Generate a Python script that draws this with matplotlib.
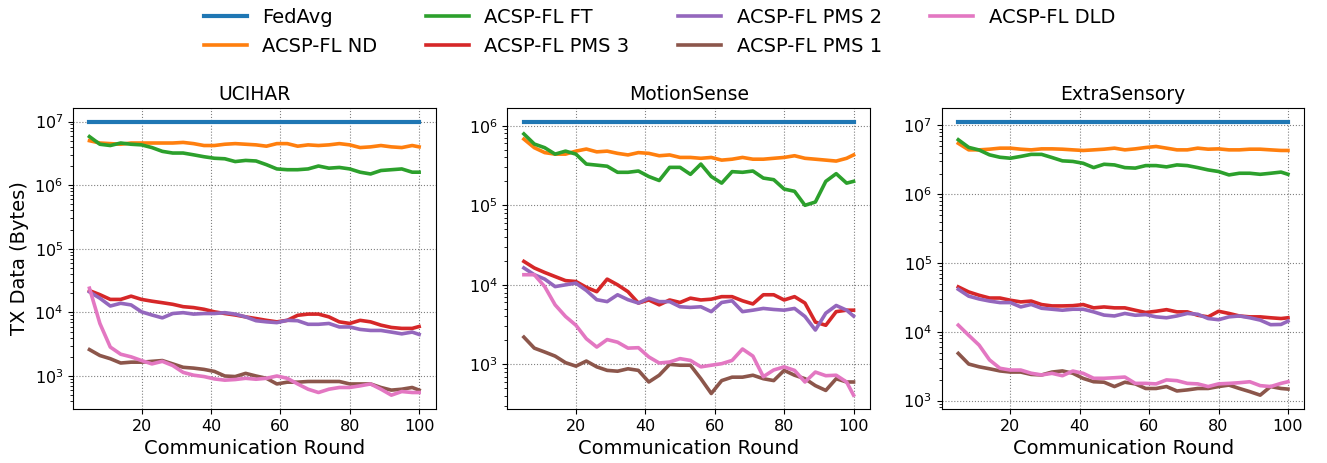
import matplotlib
matplotlib.use("Agg")
import matplotlib.pyplot as plt

# communication rounds (sampled)
rounds = [5, 8, 11, 14, 17, 20, 23, 26, 29, 32, 35, 38, 41, 44, 47, 50, 53,
          56, 59, 62, 65, 68, 71, 74, 77, 80, 83, 86, 89, 92, 95, 98, 100]
rounds_fedavg = [5, 100]

labels = ["FedAvg", "ACSP-FL ND", "ACSP-FL FT", "ACSP-FL PMS 3",
          "ACSP-FL PMS 2", "ACSP-FL PMS 1", "ACSP-FL DLD"]
titles = ["UCIHAR", "MotionSense", "ExtraSensory"]

# UCIHAR
ucihar_fedavg = [1.0e7, 1.0e7]
ucihar_nd = [5.0e6, 4.6e6, 4.5e6, 4.4e6, 4.6e6, 4.6e6, 4.6e6, 4.6e6, 4.6e6, 4.7e6, 4.5e6,
             4.2e6, 4.2e6, 4.4e6, 4.5e6, 4.4e6, 4.3e6, 4.1e6, 4.5e6, 4.5e6, 4.1e6, 4.3e6,
             4.2e6, 4.3e6, 4.5e6, 4.3e6, 3.9e6, 4.0e6, 4.2e6, 4.0e6, 3.9e6, 4.2e6, 4.0e6]
ucihar_ft = [5.8e6, 4.4e6, 4.2e6, 4.6e6, 4.4e6, 4.3e6, 3.9e6, 3.4e6, 3.2e6, 3.2e6, 3.0e6,
             2.8e6, 2.65e6, 2.6e6, 2.35e6, 2.45e6, 2.4e6, 2.1e6, 1.8e6, 1.75e6, 1.75e6, 1.8e6,
             2.0e6, 1.85e6, 1.9e6, 1.8e6, 1.6e6, 1.5e6, 1.7e6, 1.75e6, 1.8e6, 1.6e6, 1.6e6]
ucihar_pms3 = [2.2e4, 1.9e4, 1.6e4, 1.6e4, 1.8e4, 1.6e4, 1.5e4, 1.42e4, 1.34e4, 1.23e4, 1.19e4,
               1.12e4, 1.02e4, 9.6e3, 9.1e3, 8.5e3, 8.0e3, 7.5e3, 7.1e3, 7.5e3, 9.0e3, 9.4e3,
               9.4e3, 8.5e3, 7.1e3, 6.7e3, 7.5e3, 7.1e3, 6.3e3, 5.8e3, 5.6e3, 5.6e3, 6.0e3]
ucihar_pms2 = [2.1e4, 1.67e4, 1.26e4, 1.39e4, 1.31e4, 1.02e4, 9.1e3, 8.2e3, 9.6e3, 9.9e3, 9.4e3,
               9.6e3, 9.6e3, 9.9e3, 9.4e3, 8.5e3, 7.4e3, 7.1e3, 6.9e3, 7.5e3, 7.4e3, 6.5e3,
               6.5e3, 6.7e3, 5.9e3, 5.9e3, 5.4e3, 5.2e3, 5.2e3, 4.9e3, 4.6e3, 4.9e3, 4.5e3]
ucihar_pms1 = [2.6e3, 2.1e3, 1.87e3, 1.6e3, 1.65e3, 1.65e3, 1.7e3, 1.75e3, 1.55e3, 1.37e3, 1.33e3,
               1.27e3, 1.18e3, 1.0e3, 9.8e2, 1.1e3, 1.0e3, 9.2e2, 7.5e2, 8.0e2, 8.0e2, 8.2e2,
               8.2e2, 8.2e2, 8.2e2, 7.5e2, 7.5e2, 7.5e2, 6.6e2, 6.0e2, 6.2e2, 6.6e2, 6.0e2]
ucihar_dld = [2.4e4, 6.7e3, 2.85e3, 2.2e3, 2.0e3, 1.75e3, 1.55e3, 1.7e3, 1.46e3, 1.14e3, 1.03e3,
              9.8e2, 9.0e2, 8.6e2, 8.8e2, 9.2e2, 8.9e2, 9.2e2, 1.0e3, 9.2e2, 7.5e2, 6.2e2,
              5.5e2, 6.2e2, 6.6e2, 6.6e2, 7.0e2, 7.5e2, 6.2e2, 5.0e2, 5.7e2, 5.5e2, 5.5e2]

# MotionSense
motion_fedavg = [1.13e6, 1.13e6]
motion_nd = [6.8e5, 5.3e5, 4.6e5, 4.4e5, 4.4e5, 4.8e5, 5.1e5, 4.7e5, 4.8e5, 4.5e5, 4.3e5,
             4.6e5, 4.5e5, 4.2e5, 4.3e5, 4.0e5, 4.0e5, 3.9e5, 4.0e5, 3.7e5, 3.8e5, 4.0e5,
             3.8e5, 3.8e5, 3.9e5, 4.0e5, 4.2e5, 3.9e5, 3.8e5, 3.7e5, 3.6e5, 3.9e5, 4.3e5]
motion_ft = [7.9e5, 5.9e5, 5.3e5, 4.4e5, 4.8e5, 4.4e5, 3.3e5, 3.2e5, 3.1e5, 2.6e5, 2.6e5,
             2.7e5, 2.3e5, 2.05e5, 3.0e5, 3.0e5, 2.45e5, 3.3e5, 2.3e5, 1.9e5, 2.65e5, 2.6e5,
             2.7e5, 2.2e5, 2.1e5, 1.6e5, 1.5e5, 1.0e5, 1.1e5, 2.0e5, 2.5e5, 1.9e5, 2.0e5]
motion_pms3 = [1.97e4, 1.63e4, 1.43e4, 1.27e4, 1.13e4, 1.1e4, 9.3e3, 8.2e3, 1.18e4, 1.0e4, 8.2e3,
               5.9e3, 6.45e3, 5.6e3, 6.45e3, 6.0e3, 6.8e3, 6.45e3, 6.6e3, 7.1e3, 7.1e3, 6.3e3,
               5.75e3, 7.5e3, 7.5e3, 6.45e3, 7.1e3, 5.9e3, 3.4e3, 3.1e3, 4.6e3, 4.8e3, 4.8e3]
motion_pms2 = [1.63e4, 1.34e4, 1.18e4, 9.5e3, 1.0e4, 1.05e4, 8.5e3, 6.5e3, 6.15e3, 7.5e3, 6.5e3,
               5.9e3, 6.8e3, 6.15e3, 6.15e3, 5.3e3, 5.2e3, 5.3e3, 4.6e3, 6.0e3, 6.3e3, 4.6e3,
               4.8e3, 5.05e3, 4.9e3, 4.8e3, 5.05e3, 4.0e3, 2.7e3, 4.4e3, 5.5e3, 4.8e3, 4.05e3]
motion_pms1 = [2.2e3, 1.6e3, 1.43e3, 1.27e3, 1.05e3, 9.5e2, 1.1e3, 9.3e2, 8.4e2, 8.2e2, 8.8e2,
               8.4e2, 6.0e2, 7.3e2, 1.0e3, 9.75e2, 9.75e2, 6.6e2, 4.3e2, 6.25e2, 6.9e2, 6.9e2,
               7.3e2, 6.6e2, 6.25e2, 8.4e2, 7.3e2, 6.6e2, 5.4e2, 4.7e2, 6.6e2, 6.0e2, 6.0e2]
motion_dld = [1.34e4, 1.34e4, 9.5e3, 5.6e3, 4.0e3, 3.1e3, 2.1e3, 1.65e3, 2.05e3, 1.9e3, 1.6e3,
              1.62e3, 1.24e3, 1.04e3, 1.07e3, 1.18e3, 1.12e3, 9.3e2, 9.75e2, 1.02e3, 1.12e3, 1.56e3,
              1.27e3, 7.0e2, 8.5e2, 9.3e2, 8.4e2, 6.0e2, 8.0e2, 7.2e2, 7.3e2, 6.0e2, 4.1e2]

# ExtraSensory
extra_fedavg = [1.14e7, 1.14e7]
extra_nd = [5.5e6, 4.42e6, 4.42e6, 4.52e6, 4.68e6, 4.68e6, 4.52e6, 4.42e6, 4.57e6, 4.57e6, 4.52e6,
            4.42e6, 4.33e6, 4.42e6, 4.52e6, 4.68e6, 4.42e6, 4.57e6, 4.78e6, 4.95e6, 4.68e6, 4.42e6,
            4.42e6, 4.68e6, 4.52e6, 4.57e6, 4.42e6, 4.42e6, 4.52e6, 4.52e6, 4.42e6, 4.33e6, 4.33e6]
extra_ft = [6.2e6, 4.8e6, 4.4e6, 3.74e6, 3.45e6, 3.34e6, 3.55e6, 3.8e6, 3.8e6, 3.42e6, 3.06e6,
            3.0e6, 2.82e6, 2.44e6, 2.73e6, 2.67e6, 2.44e6, 2.4e6, 2.61e6, 2.61e6, 2.5e6, 2.67e6,
            2.61e6, 2.44e6, 2.26e6, 2.14e6, 1.91e6, 2.02e6, 2.02e6, 1.95e6, 2.02e6, 2.1e6, 1.95e6]
extra_pms3 = [4.5e4, 3.8e4, 3.4e4, 3.1e4, 3.1e4, 2.88e4, 2.72e4, 2.8e4, 2.49e4, 2.38e4, 2.38e4,
              2.4e4, 2.49e4, 2.23e4, 2.3e4, 2.23e4, 2.23e4, 2.06e4, 1.91e4, 1.99e4, 2.1e4, 1.95e4,
              1.95e4, 1.74e4, 1.65e4, 1.99e4, 1.85e4, 1.7e4, 1.65e4, 1.65e4, 1.6e4, 1.56e4, 1.6e4]
extra_pms2 = [4.15e4, 3.3e4, 3.0e4, 2.8e4, 2.66e4, 2.66e4, 2.3e4, 2.5e4, 2.2e4, 2.13e4, 2.06e4,
              2.13e4, 2.13e4, 1.95e4, 1.75e4, 1.7e4, 1.85e4, 1.74e4, 1.78e4, 1.65e4, 1.6e4, 1.7e4,
              1.85e4, 1.8e4, 1.56e4, 1.5e4, 1.65e4, 1.7e4, 1.6e4, 1.48e4, 1.27e4, 1.28e4, 1.43e4]
extra_pms1 = [4.85e3, 3.4e3, 3.1e3, 2.9e3, 2.7e3, 2.6e3, 2.6e3, 2.4e3, 2.36e3, 2.6e3, 2.7e3,
              2.5e3, 2.1e3, 1.88e3, 1.85e3, 1.6e3, 1.85e3, 1.75e3, 1.5e3, 1.5e3, 1.6e3, 1.38e3,
              1.43e3, 1.5e3, 1.5e3, 1.6e3, 1.68e3, 1.5e3, 1.35e3, 1.2e3, 1.6e3, 1.5e3, 1.47e3]
extra_dld = [1.25e4, 8.9e3, 6.4e3, 3.9e3, 2.95e3, 2.78e3, 2.78e3, 2.5e3, 2.36e3, 2.49e3, 2.3e3,
             2.69e3, 2.49e3, 2.11e3, 2.11e3, 2.15e3, 2.2e3, 1.78e3, 1.78e3, 1.75e3, 2.0e3, 1.95e3,
             1.78e3, 1.75e3, 1.6e3, 1.75e3, 1.78e3, 1.82e3, 1.88e3, 1.65e3, 1.6e3, 1.78e3, 1.88e3]

panels = [
    (ucihar_fedavg, [ucihar_nd, ucihar_ft, ucihar_pms3, ucihar_pms2, ucihar_pms1, ucihar_dld]),
    (motion_fedavg, [motion_nd, motion_ft, motion_pms3, motion_pms2, motion_pms1, motion_dld]),
    (extra_fedavg, [extra_nd, extra_ft, extra_pms3, extra_pms2, extra_pms1, extra_dld]),
]

fig, axes = plt.subplots(1, 3, figsize=(13.27, 4.63), dpi=100)
plt.subplots_adjust(left=0.055, right=0.983, bottom=0.117, top=0.767, wspace=0.198)

lw = 2.6
for i, ax in enumerate(axes):
    fedavg, series = panels[i]
    ax.plot(rounds_fedavg, fedavg, color="C0", lw=lw + 0.4, label=labels[0])
    for j, s in enumerate(series):
        ax.plot(rounds, s, color="C%d" % (j + 1), lw=lw, label=labels[j + 1])
    ax.set_yscale("log")
    ax.set_title(titles[i], fontsize=13.5)
    ax.set_xlabel("Communication Round", fontsize=14)
    ax.set_xticks([20, 40, 60, 80, 100])
    ax.tick_params(labelsize=11.5)
    ax.grid(True, linestyle=":", color="gray", linewidth=0.8)

axes[0].set_ylabel("TX Data (Bytes)", fontsize=14)

handles, lbls = axes[0].get_legend_handles_labels()
fig.legend(handles, lbls, loc="upper center", bbox_to_anchor=(0.497, 1.02), ncol=4,
           frameon=False, fontsize=14, columnspacing=2.5, handlelength=2.2)

plt.savefig("out.png")
